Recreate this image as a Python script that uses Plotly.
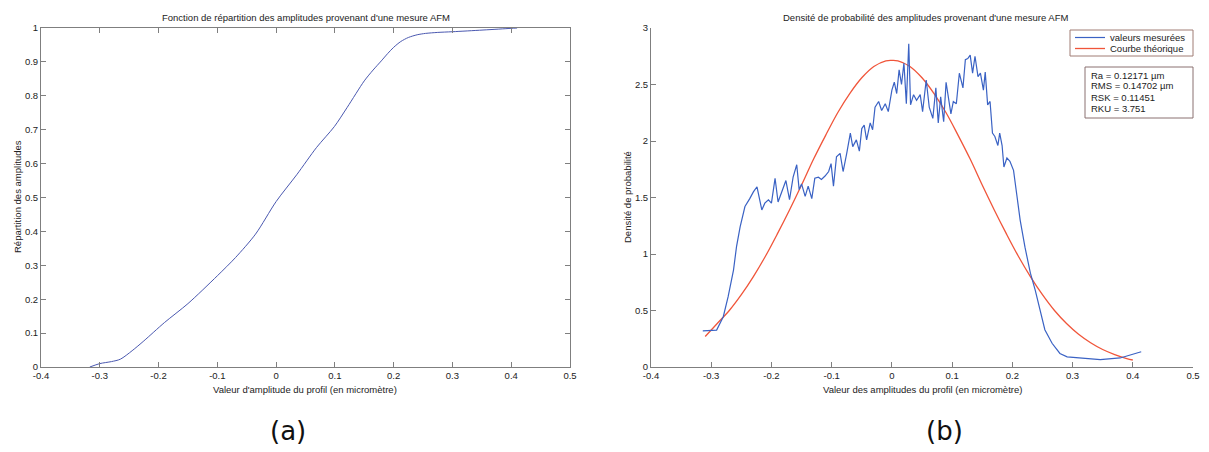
import plotly.graph_objects as go

# the page body has an 8 px margin: the figure starts at (8, 8) in the window
OFF = 8
W, H = 1209 - OFF, 452 - OFF

# ---------------- data ----------------
# (a) cumulative distribution of amplitudes
cdf_x = [-0.317, -0.300, -0.280, -0.265, -0.245, -0.225, -0.190, -0.150, -0.100, -0.069,
         -0.035, 0.000, 0.035, 0.069, 0.099, 0.121, 0.150, 0.165, 0.179,
         0.190, 0.200, 0.212, 0.225, 0.240, 0.254, 0.275, 0.300, 0.352, 0.400, 0.410]
cdf_y = [0.000, 0.010, 0.016, 0.023, 0.048, 0.077, 0.131, 0.187, 0.269, 0.323,
         0.392, 0.488, 0.567, 0.648, 0.709, 0.766, 0.844, 0.876, 0.903,
         0.925, 0.943, 0.960, 0.972, 0.980, 0.984, 0.987, 0.989, 0.994, 0.999, 1.000]

# (b) measured probability density
meas_x = [-0.314, -0.291, -0.280, -0.272, -0.263, -0.258, -0.252, -0.244, -0.236, -0.230,
          -0.224, -0.216, -0.211, -0.205, -0.200, -0.194, -0.189, -0.183, -0.176, -0.170,
          -0.164, -0.158, -0.154, -0.150, -0.144, -0.139, -0.133, -0.128, -0.122, -0.117,
          -0.111, -0.105, -0.101, -0.097, -0.092, -0.086, -0.081, -0.075, -0.069, -0.065,
          -0.059, -0.054, -0.050, -0.046, -0.042, -0.036, -0.032, -0.028, -0.022, -0.017,
          -0.011, -0.006, 0.000, 0.004, 0.008, 0.012, 0.016, 0.020, 0.024, 0.028,
          0.031, 0.036, 0.041, 0.047, 0.051, 0.057, 0.062, 0.068, 0.073, 0.077,
          0.081, 0.086, 0.090, 0.094, 0.098, 0.102, 0.107, 0.112, 0.118, 0.122,
          0.126, 0.130, 0.134, 0.138, 0.143, 0.147, 0.152, 0.155, 0.159, 0.163,
          0.167, 0.171, 0.176, 0.179, 0.183, 0.186, 0.191, 0.196, 0.202, 0.207,
          0.213, 0.221, 0.230, 0.238, 0.246, 0.254, 0.266, 0.279, 0.291, 0.346,
          0.379, 0.414]
meas_y = [0.32, 0.327, 0.445, 0.62, 0.858, 1.065, 1.24, 1.42, 1.49, 1.55,
          1.595, 1.39, 1.45, 1.48, 1.45, 1.67, 1.46, 1.55, 1.65, 1.48,
          1.68, 1.79, 1.57, 1.62, 1.51, 1.60, 1.49, 1.67, 1.68, 1.66,
          1.69, 1.73, 1.80, 1.60, 1.86, 1.89, 1.73, 1.89, 2.07, 1.95,
          2.01, 1.91, 2.11, 2.14, 2.01, 2.16, 2.10, 2.30, 2.35, 2.27,
          2.33, 2.26, 2.45, 2.52, 2.42, 2.63, 2.50, 2.69, 2.33, 2.86,
          2.32, 2.41, 2.36, 2.41, 2.26, 2.54, 2.30, 2.20, 2.47, 2.16,
          2.39, 2.17, 2.52, 2.38, 2.24, 2.35, 2.33, 2.60, 2.47, 2.72,
          2.73, 2.76, 2.60, 2.75, 2.57, 2.60, 2.45, 2.61, 2.32, 2.35,
          2.07, 2.04, 1.96, 2.07, 1.96, 1.77, 1.85, 1.82, 1.74, 1.54,
          1.30, 1.06, 0.83, 0.68, 0.49, 0.33, 0.21, 0.12, 0.09, 0.065,
          0.08, 0.135]

# (b) theoretical curve
theo_x = [-0.31, -0.29, -0.27, -0.25, -0.23, -0.21, -0.19, -0.17, -0.15, -0.13,
          -0.11, -0.09, -0.07, -0.05, -0.03, -0.01, 0.00, 0.01, 0.03, 0.05,
          0.07, 0.09, 0.11, 0.13, 0.15, 0.17, 0.19, 0.21, 0.23, 0.25,
          0.27, 0.29, 0.31, 0.33, 0.35, 0.37, 0.39, 0.40]
theo_y = [0.27, 0.385, 0.50, 0.64, 0.80, 0.98, 1.18, 1.39, 1.61, 1.84,
          2.05, 2.25, 2.42, 2.56, 2.66, 2.71, 2.714, 2.71, 2.66, 2.56,
          2.42, 2.25, 2.05, 1.84, 1.61, 1.39, 1.18, 0.98, 0.80, 0.64,
          0.50, 0.385, 0.29, 0.215, 0.155, 0.11, 0.075, 0.062]

x_ticks = [-0.4, -0.3, -0.2, -0.1, 0, 0.1, 0.2, 0.3, 0.4, 0.5]
x_tick_text = ["-0.4", "-0.3", "-0.2", "-0.1", "0", "0.1", "0.2", "0.3", "0.4", "0.5"]
ya_ticks = [0, 0.1, 0.2, 0.3, 0.4, 0.5, 0.6, 0.7, 0.8, 0.9, 1]
ya_tick_text = ["0", "0.1", "0.2", "0.3", "0.4", "0.5", "0.6", "0.7", "0.8", "0.9", "1"]
yb_ticks = [0, 0.5, 1, 1.5, 2, 2.5, 3]
yb_tick_text = ["0", "0.5", "1", "1.5", "2", "2.5", "3"]

stats_lines = ["Ra = 0.12171 µm", "RMS = 0.14702 µm", "RSK = 0.11451", "RKU = 3.751"]

# ---------------- figure ----------------
FONT = "Liberation Sans, Arial, sans-serif"
TXT = "#222222"
AX = "#7f7f7f"
BLUE_A = "#4a58b0"
BLUE_B = "#3a62c4"
RED = "#f0553a"

def px(x):
    return (x - OFF) / W

def py(y):
    return 1 - (y - OFF) / H

fig = go.Figure()
fig.add_trace(go.Scatter(x=cdf_x, y=cdf_y, mode="lines",
                         line=dict(color=BLUE_A, width=1, shape="spline", smoothing=0.8),
                         xaxis="x", yaxis="y", showlegend=False))
fig.add_trace(go.Scatter(x=theo_x, y=theo_y, mode="lines", line=dict(color=RED, width=1.3, shape="spline"),
                         xaxis="x2", yaxis="y2", showlegend=False))
fig.add_trace(go.Scatter(x=meas_x, y=meas_y, mode="lines", line=dict(color=BLUE_B, width=1.2),
                         xaxis="x2", yaxis="y2", showlegend=False))

common = dict(showgrid=False, zeroline=False, showline=True, linecolor=AX, linewidth=1,
              ticks="inside", ticklen=5, tickcolor=AX, tickmode="array", automargin=False,
              tickfont=dict(family=FONT, size=9.5, color=TXT))

fig.update_layout(
    width=W, height=H, autosize=False,
    margin=dict(l=0, r=0, t=0, b=0, pad=0, autoexpand=False),
    paper_bgcolor="white", plot_bgcolor="white",
    xaxis=dict(domain=[px(41), px(570)], range=[-0.4, 0.5], anchor="y",
               tickvals=x_ticks, ticktext=x_tick_text, mirror="allticks", **common),
    yaxis=dict(domain=[py(367), py(28)], range=[0, 1], anchor="x",
               tickvals=ya_ticks, ticktext=ya_tick_text, mirror="allticks", **common),
    xaxis2=dict(domain=[px(651), px(1193)], range=[-0.4, 0.5], anchor="y2",
                tickvals=x_ticks, ticktext=x_tick_text, **common),
    yaxis2=dict(domain=[py(367), py(28)], range=[0, 3], anchor="x2",
                tickvals=yb_ticks, ticktext=yb_tick_text, **common),
)

ann = []
def text(x, y, s, size=9, angle=0, xanchor="center", yanchor="middle", family=FONT, color=TXT, align="center"):
    ann.append(dict(x=px(x), y=py(y), xref="paper", yref="paper", text=s, showarrow=False,
                    textangle=angle, xanchor=xanchor, yanchor=yanchor, align=align,
                    font=dict(family=family, size=size, color=color)))

text(306, 18, "Fonction de répartition des amplitudes provenant d'une mesure AFM", size=9.5)
text(925, 17, "Densité de probabilité des amplitudes provenant d'une mesure AFM", size=9.5)
text(305, 389, "Valeur d'amplitude du profil (en micromètre)", size=9.5)
text(922, 389, "Valeur des amplitudes du profil (en micromètre)", size=9.5)
text(17, 197, "Répartition des amplitudes", size=9.5, angle=-90)
text(627, 197, "Densité de probabilité", size=9.5, angle=-90)
text(288, 431, "(a)", size=26, family="DejaVu Sans, sans-serif", color="#111111")
text(944, 431, "(b)", size=26, family="DejaVu Sans, sans-serif", color="#111111")

# custom legend
shapes = []
shapes.append(dict(type="rect", xref="paper", yref="paper", x0=px(1070), x1=px(1193), y0=py(56), y1=py(30),
                   line=dict(color="#a07c74", width=1), fillcolor="white"))
shapes.append(dict(type="line", xref="paper", yref="paper", x0=px(1075), x1=px(1105), y0=py(37.5), y1=py(37.5),
                   line=dict(color=BLUE_B, width=1.2)))
shapes.append(dict(type="line", xref="paper", yref="paper", x0=px(1075), x1=px(1105), y0=py(48.5), y1=py(48.5),
                   line=dict(color=RED, width=1.3)))
text(1108, 37.5, "valeurs mesurées", size=9.5, xanchor="left")
text(1108, 48.5, "Courbe théorique", size=9.5, xanchor="left")

# stats box
shapes.append(dict(type="rect", xref="paper", yref="paper", x0=px(1085), x1=px(1193), y0=py(118), y1=py(67),
                   line=dict(color="#8a7070", width=1), fillcolor="white"))
for i, line in enumerate(stats_lines):
    text(1089, 75 + 11 * i, line, size=9.5, xanchor="left")

fig.update_layout(annotations=ann, shapes=shapes)
fig.write_html("out.html")
